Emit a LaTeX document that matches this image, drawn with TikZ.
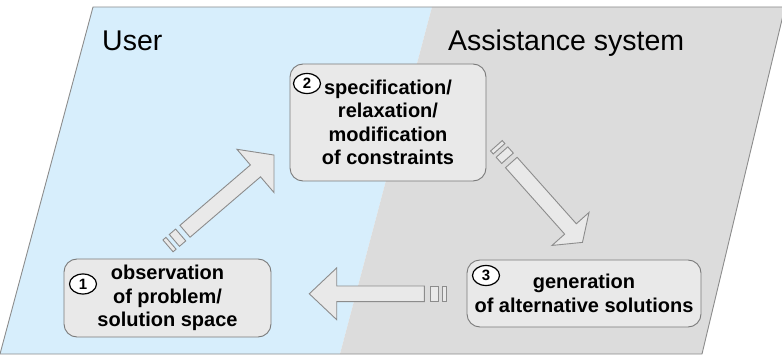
\documentclass[tikz,border=0pt]{standalone}
\usepackage{fontspec}
\setmainfont{Liberation Sans}
\usetikzlibrary{calc,shapes.geometric}
\definecolor{userblue}{HTML}{D7EEFC}
\definecolor{sysgray}{HTML}{DCDCDC}
\definecolor{edgegray}{HTML}{8C8C8C}
\definecolor{boxfill}{HTML}{E9E9E9}
\definecolor{boxedge}{HTML}{7A7A7A}
\tikzset{
  laneedge/.style={draw=edgegray, line width=0.9pt},
  lanetitle/.style={font=\fontsize{28.5}{30}\selectfont, anchor=base west, inner sep=0pt},
  stepbox/.style={draw=boxedge, fill=boxfill, line width=0.9pt, rounded corners=13pt,
    align=center, inner sep=0pt, font=\bfseries\fontsize{20}{23.3}\selectfont},
  stepnum/.style={ellipse, draw=black, fill=white, line width=1.2pt,
    minimum width=27pt, minimum height=20pt, inner sep=0pt,
    font=\bfseries\fontsize{15}{15}\selectfont},
  arrowbody/.style={draw=edgegray, fill=boxfill, line width=0.9pt, line join=miter}
}
% block arrow: start coordinate, angle, shaft length, head length, head half width
\newcommand\blockarrow[5]{%
  \begin{scope}[shift={#1}, rotate=#2]
    \filldraw[arrowbody] (0,-7.8) -- (#3,-7.8) -- (#3,-#5) -- (#3+#4,0)
      -- (#3,#5) -- (#3,7.8) -- (0,7.8) -- cycle;
    \filldraw[arrowbody] (-5.7,-7.8) rectangle (-14,7.8);
    \filldraw[arrowbody] (-18.4,-7.8) rectangle (-22.4,7.8);
  \end{scope}}
\begin{document}
\begin{tikzpicture}[x=1pt, y=-1pt]
  \useasboundingbox (0,0) rectangle (782,358);
  \begin{scope}
    \clip (0,0) rectangle (782,358);
    % the two lanes
    \fill[userblue] (93,7) -- (432,7) -- (340,354) -- (0,354) -- cycle;
    \fill[sysgray] (432,7) -- (785,7) -- (702,354) -- (340,354) -- cycle;
    \draw[laneedge] (0,354) -- (93,7) -- (785,7) -- (702,354) -- cycle;
  \end{scope}
  \node[lanetitle] (user) at (102,51) {User};
  \node[lanetitle] (system) at (448,51) {Assistance system};

  % steps of the loop
  \node[stepbox, minimum width=196pt, minimum height=117pt] (b2) at (388,122.5)
    {specification/\\relaxation/\\modification\\of constraints};
  \node[stepbox, minimum width=207pt, minimum height=78pt] (b1) at (167.5,298)
    {observation\\of problem/\\solution space};
  \node[stepbox, minimum width=234pt, minimum height=67pt] (b3) at (584,293.5)
    {generation\\of alternative solutions};

  \node[stepnum] (n2) at (307,83.5) {2};
  \node[stepnum] (n1) at (83,284) {1};
  \node[stepnum] (n3) at (486,275.5) {3};

  % transitions between the steps
  \coordinate (a12) at (185,231.3);
  \coordinate (a23) at (511.3,162.5);
  \coordinate (a31) at (424.3,293.8);
  \blockarrow{(a12)}{40.6}{92.8}{24.4}{28.5}
  \blockarrow{(a23)}{-48.3}{89}{18}{24.8}
  \blockarrow{(a31)}{180}{87.6}{27.4}{25.9}
\end{tikzpicture}
\end{document}
